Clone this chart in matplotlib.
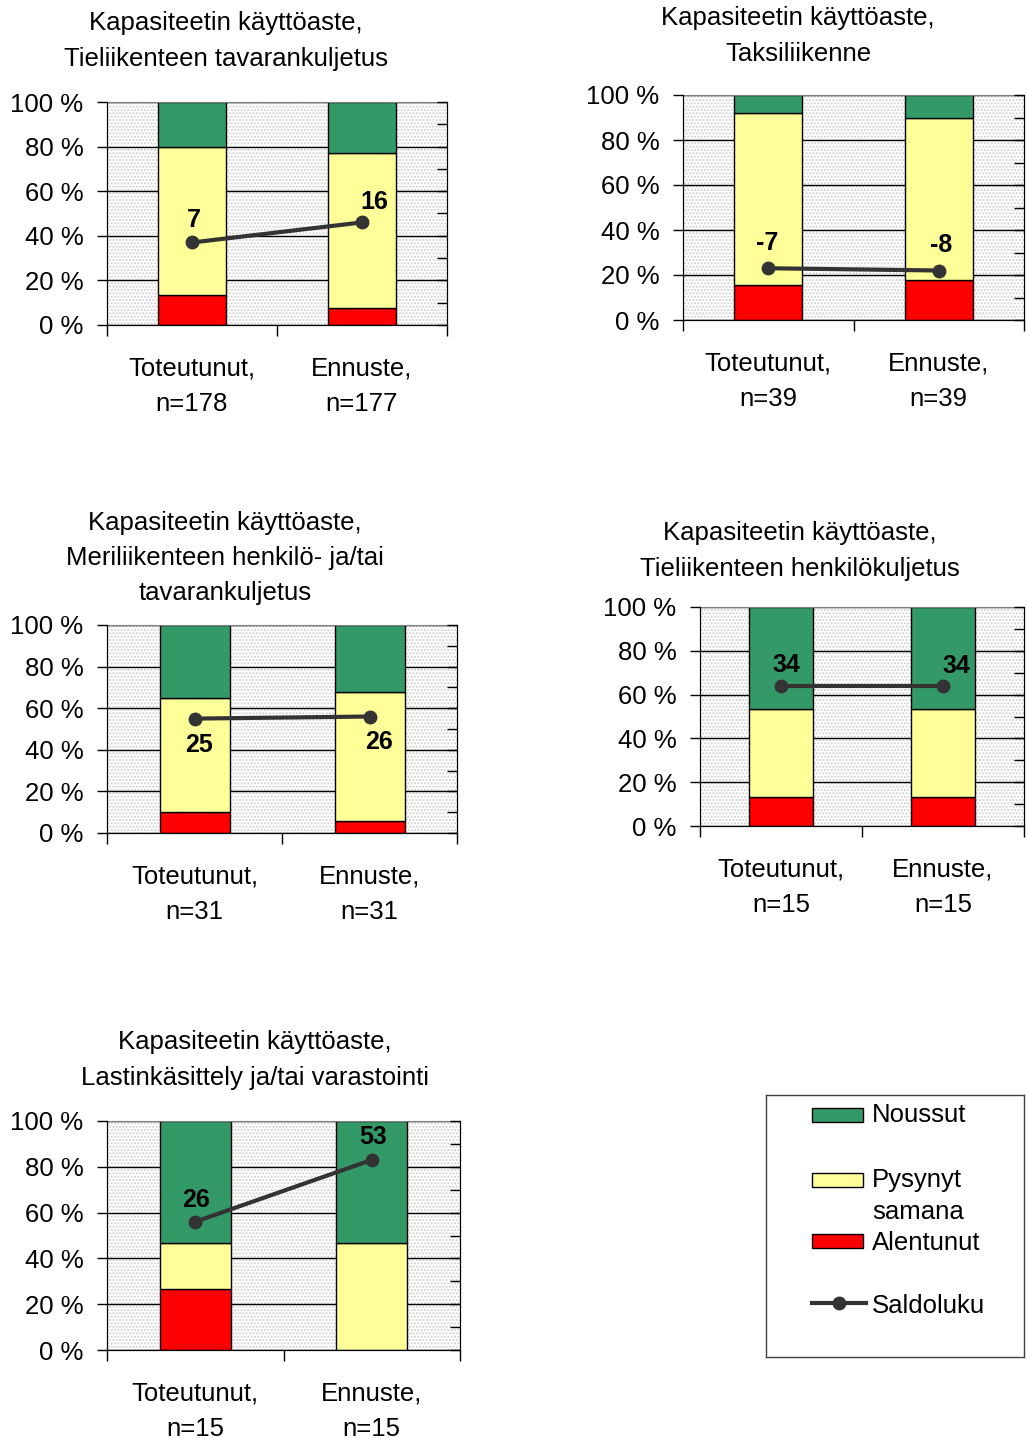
import matplotlib
matplotlib.use('Agg')
import matplotlib.pyplot as plt
from matplotlib.patches import Rectangle
from matplotlib.lines import Line2D

plt.rcParams['font.family'] = ['Liberation Sans', 'DejaVu Sans']

# data
titles = [
    'Kapasiteetin käyttöaste,\nTieliikenteen tavarankuljetus',
    'Kapasiteetin käyttöaste,\nTaksiliikenne',
    'Kapasiteetin käyttöaste,\nMeriliikenteen henkilö- ja/tai\ntavarankuljetus',
    'Kapasiteetin käyttöaste,\nTieliikenteen henkilökuljetus',
    'Kapasiteetin käyttöaste,\nLastinkäsittely ja/tai varastointi',
]
categories = [
    ['Toteutunut,\nn=178', 'Ennuste,\nn=177'],
    ['Toteutunut,\nn=39', 'Ennuste,\nn=39'],
    ['Toteutunut,\nn=31', 'Ennuste,\nn=31'],
    ['Toteutunut,\nn=15', 'Ennuste,\nn=15'],
    ['Toteutunut,\nn=15', 'Ennuste,\nn=15'],
]
alentunut = [[13.5, 7.5], [15.5, 18], [10, 6], [13.3, 13.3], [26.7, 0]]
pysynyt = [[66.5, 69.5], [76.5, 72], [55, 62], [40, 40], [20, 46.7]]
noussut = [[20, 23], [8, 10], [35, 32], [46.7, 46.7], [53.3, 53.3]]
saldo = [[7, 16], [-7, -8], [25, 26], [34, 34], [26, 53]]

# layout (pixels: left, top, right, bottom of plot area)
W, H = 1026, 1439
rects = [(107, 102, 447, 325), (683, 95, 1024, 320), (107, 625, 457, 833),
         (700, 607, 1024, 826), (107, 1121, 460, 1350)]
title_pos = [(226, 41), (798, 36), (225, 558), (800, 551), (255, 1060)]
# saldo label offsets in pixels (dx, dy)
label_off = [[(2, 22), (12, 20)], [(-1, 25), (2, 25)], [(4, -26), (9, -25)],
             [(5, 21), (13, 20)], [(1, 22), (1, 23)]]

GREEN = '#339966'
YELLOW = '#FFFF99'
RED = '#FF0000'
LINE = '#333333'
FS = 18.5

fig = plt.figure(figsize=(W / 100, H / 100), dpi=100)

for i in range(5):
    l, t, r, b = rects[i]
    ax = fig.add_axes([l / W, 1 - b / H, (r - l) / W, (b - t) / H])
    ax.set_facecolor('white')
    ax.add_patch(Rectangle((0, 0), 1, 1, transform=ax.transAxes, facecolor='white',
                           hatch='.....', edgecolor='#d0d0d0', lw=0, zorder=0))
    x = [0, 1]
    ax.bar(x, alentunut[i], 0.4, color=RED, edgecolor='black', lw=1, zorder=2)
    ax.bar(x, pysynyt[i], 0.4, bottom=alentunut[i], color=YELLOW,
           edgecolor='black', lw=1, zorder=2)
    bot = [a + p for a, p in zip(alentunut[i], pysynyt[i])]
    ax.bar(x, noussut[i], 0.4, bottom=bot, color=GREEN, edgecolor='black', lw=1, zorder=2)

    ax.set_xlim(-0.5, 1.5)
    ax.set_ylim(0, 100)
    ax.set_yticks(range(0, 101, 20))
    ax.set_yticklabels([f'{v} %' for v in range(0, 101, 20)], fontsize=FS)
    ax.tick_params(axis='y', length=7, pad=10, width=1)
    ax.yaxis.grid(True, color='black', lw=1)
    ax.set_axisbelow(True)
    ax.set_xticks([-0.5, 0.5, 1.5])
    ax.set_xticklabels([])
    ax.set_xticks(x, minor=True)
    ax.set_xticklabels(categories[i], minor=True, fontsize=FS, linespacing=1.6)
    ax.tick_params(axis='x', which='major', length=8, width=1)
    ax.tick_params(axis='x', which='minor', length=0, pad=23)
    ax.spines['top'].set_color('#808080')

    ax2 = ax.twinx()
    ax2.set_ylim(-30, 70)
    ax2.set_yticks(range(-30, 71, 10))
    ax2.set_yticklabels([])
    ax2.tick_params(axis='y', direction='in', length=7, width=1)
    ax2.spines['top'].set_visible(False)
    ax2.plot(x, saldo[i], color=LINE, lw=3, marker='o', ms=9, zorder=5)
    for j in range(2):
        ax2.annotate(str(saldo[i][j]), (x[j], saldo[i][j]), xytext=label_off[i][j],
                     textcoords='offset pixels', ha='center', va='center',
                     fontsize=18, fontweight='bold')

    tx, ty = title_pos[i]
    fig.text(tx / W, 1 - ty / H, titles[i], ha='center', va='center',
             fontsize=FS, linespacing=1.6)

# legend box
lx0, ly0, lx1, ly1 = 766, 1095, 1024, 1357
lax = fig.add_axes([lx0 / W, 1 - ly1 / H, (lx1 - lx0) / W, (ly1 - ly0) / H])
lax.set_xlim(lx0, lx1)
lax.set_ylim(ly1, ly0)
lax.set_xticks([])
lax.set_yticks([])
for s in lax.spines.values():
    s.set_color('#404040')
    s.set_linewidth(1)
for col, yy in [(GREEN, 1115), (YELLOW, 1180), (RED, 1241)]:
    lax.add_patch(Rectangle((812, yy - 7), 51, 14, facecolor=col, edgecolor='black', lw=1))
lax.add_line(Line2D([812, 866], [1303, 1303], color=LINE, lw=3))
lax.plot([839], [1303], 'o', color=LINE, ms=9)
lax.text(872, 1115, 'Noussut', fontsize=FS, va='center')
lax.text(872, 1180, 'Pysynyt', fontsize=FS, va='center')
lax.text(872, 1212, 'samana', fontsize=FS, va='center')
lax.text(872, 1243, 'Alentunut', fontsize=FS, va='center')
lax.text(872, 1306, 'Saldoluku', fontsize=FS, va='center')

fig.savefig('out.png', dpi=100)
